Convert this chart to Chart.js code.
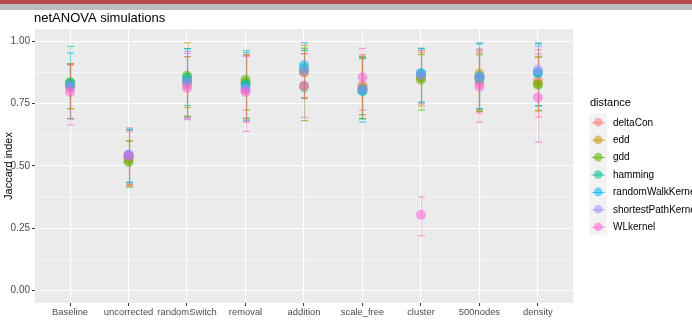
<!DOCTYPE html>
<html>
<head>
<meta charset="utf-8">
<script src="https://cdn.jsdelivr.net/npm/chart.js@4/dist/chart.umd.min.js"></script>
<style>
html,body{margin:0;padding:0;background:#fff;}
canvas{display:block;}
</style>
</head>
<body>
<canvas id="c" width="692" height="320"></canvas>
<script>
const categories = ['Baseline','uncorrected','randomSwitch','removal','addition','scale_free','cluster','500nodes','density'];
const distances = ['deltaCon','edd','gdd','hamming','randomWalkKernel','shortestPathKernel','WLkernel'];
const yTickLabels = [0, 0.25, 0.5, 0.75, 1];

const deltaConMean = [0.815,0.534,0.826,0.806,0.877,0.823,0.862,0.833,0.843];
const deltaConLo   = [0.690,0.424,0.695,0.676,0.775,0.724,0.749,0.712,0.696];
const deltaConHi   = [0.910,0.639,0.939,0.947,0.951,0.947,0.963,0.967,0.967];

const eddMean = [0.825,0.525,0.840,0.835,0.877,0.815,0.855,0.870,0.830];
const eddLo   = [0.730,0.420,0.734,0.690,0.770,0.706,0.740,0.720,0.720];
const eddHi   = [0.910,0.600,0.994,0.947,0.984,0.940,0.955,0.960,0.940];

const gddMean = [0.835,0.516,0.862,0.846,0.820,0.810,0.846,0.853,0.826];
const gddLo   = [0.730,0.415,0.700,0.724,0.682,0.690,0.724,0.719,0.724];
const gddHi   = [0.910,0.601,0.939,0.947,0.973,0.931,0.947,0.947,0.936];

const hammingMean = [0.835,0.540,0.855,0.830,0.890,0.800,0.870,0.850,0.875];
const hammingLo   = [0.690,0.434,0.742,0.692,0.775,0.690,0.757,0.730,0.742];
const hammingHi   = [0.980,0.647,0.971,0.963,0.963,0.935,0.972,0.994,0.994];

const randomWalkKernelMean = [0.823,0.545,0.842,0.822,0.904,0.803,0.873,0.860,0.873];
const randomWalkKernelLo   = [0.690,0.434,0.698,0.684,0.800,0.676,0.757,0.730,0.742];
const randomWalkKernelHi   = [0.953,0.647,0.971,0.955,0.994,0.935,0.972,0.990,0.990];

const shortestPathKernelMean = [0.820,0.545,0.835,0.810,0.880,0.810,0.865,0.855,0.886];
const shortestPathKernelLo   = [0.690,0.430,0.690,0.680,0.770,0.690,0.750,0.725,0.740];
const shortestPathKernelHi   = [0.910,0.645,0.960,0.945,0.970,0.940,0.965,0.970,0.980];

const WLkernelMean = [0.797,0.540,0.813,0.797,0.822,0.856,0.304,0.819,0.775];
const WLkernelLo   = [0.664,0.424,0.686,0.639,0.695,0.706,0.220,0.676,0.596];
const WLkernelHi   = [0.905,0.653,0.952,0.939,0.951,0.972,0.375,0.953,0.950];

const means = [deltaConMean, eddMean, gddMean, hammingMean, randomWalkKernelMean, shortestPathKernelMean, WLkernelMean];
const lows  = [deltaConLo, eddLo, gddLo, hammingLo, randomWalkKernelLo, shortestPathKernelLo, WLkernelLo];
const highs = [deltaConHi, eddHi, gddHi, hammingHi, randomWalkKernelHi, shortestPathKernelHi, WLkernelHi];

const colours = ['248,118,109','196,154,0','83,180,0','0,192,148','0,182,235','165,138,255','251,97,215'];
const FONT = "'Liberation Sans', Arial, sans-serif";

const datasets = distances.map((d, i) => ({
  label: d,
  data: means[i].map((v, j) => ({x: j, y: v})),
  backgroundColor: 'rgba(' + colours[i] + ',0.55)',
  borderWidth: 0,
  pointRadius: 5,
  pointHoverRadius: 5,
  order: distances.length - 1 - i
}));

const decor = {
  id: 'decor',
  beforeDraw(chart) {
    const ctx = chart.ctx, a = chart.chartArea;
    ctx.save();
    ctx.fillStyle = '#ffffff';
    ctx.fillRect(0, 0, chart.width, chart.height);
    ctx.fillStyle = '#B5474A';
    ctx.fillRect(0, 0, chart.width, 4);
    ctx.fillStyle = '#BDBDBD';
    ctx.fillRect(0, 4, chart.width, 6);
    ctx.fillStyle = '#EBEBEB';
    ctx.fillRect(a.left, a.top, a.right - a.left, a.bottom - a.top);
    ctx.restore();
  },
  beforeDatasetsDraw(chart) {
    const ctx = chart.ctx, xs = chart.scales.x, ys = chart.scales.y;
    ctx.save();
    ctx.lineWidth = 1.2;
    for (let i = distances.length - 1; i >= 0; i--) {
      ctx.strokeStyle = 'rgba(' + colours[i] + ',' + (i === 0 ? 0.6 : 0.3) + ')';
      for (let j = 0; j < categories.length; j++) {
        const x = Math.round(xs.getPixelForValue(j)) + 0.5;
        const y1 = ys.getPixelForValue(lows[i][j]);
        const y2 = ys.getPixelForValue(highs[i][j]);
        ctx.beginPath();
        ctx.moveTo(x, y1); ctx.lineTo(x, y2);
        ctx.stroke();
        ctx.strokeStyle = 'rgba(' + colours[i] + ',0.6)';
        ctx.beginPath();
        ctx.moveTo(x - 3.5, y1); ctx.lineTo(x + 3.5, y1);
        ctx.moveTo(x - 3.5, y2); ctx.lineTo(x + 3.5, y2);
        ctx.stroke();
        ctx.strokeStyle = 'rgba(' + colours[i] + ',' + (i === 0 ? 0.6 : 0.3) + ')';
      }
    }
    ctx.restore();
  },
  afterDraw(chart) {
    const ctx = chart.ctx, a = chart.chartArea;
    ctx.save();
    ctx.fillStyle = '#000';
    ctx.font = '13px ' + FONT;
    ctx.textBaseline = 'alphabetic';
    ctx.textAlign = 'left';
    ctx.fillText('netANOVA simulations', 34, 22);
    ctx.save();
    ctx.translate(9, (a.top + a.bottom) / 2);
    ctx.rotate(-Math.PI / 2);
    ctx.textAlign = 'center';
    ctx.textBaseline = 'middle';
    ctx.font = '11px ' + FONT;
    ctx.fillText('Jaccard index', 0, 0);
    ctx.restore();
    ctx.font = '11px ' + FONT;
    ctx.textBaseline = 'middle';
    ctx.fillText('distance', 590, 103);
    ctx.font = '10px ' + FONT;
    for (let i = 0; i < distances.length; i++) {
      const cy = 122.3 + i * 17.4;
      ctx.fillStyle = '#F2F2F2';
      ctx.fillRect(589.5, cy - 8.7, 17.4, 17.4);
      ctx.strokeStyle = 'rgba(' + colours[i] + ',0.7)';
      ctx.lineWidth = 1;
      ctx.beginPath();
      ctx.moveTo(591.5, cy + 0.5); ctx.lineTo(605, cy + 0.5);
      ctx.stroke();
      ctx.fillStyle = 'rgba(' + colours[i] + ',0.55)';
      ctx.beginPath();
      ctx.arc(598.2, cy, 4.3, 0, Math.PI * 2);
      ctx.fill();
      ctx.fillStyle = '#000';
      ctx.fillText(distances[i], 613, cy + 0.5);
    }
    ctx.restore();
  }
};

new Chart(document.getElementById('c'), {
  type: 'scatter',
  data: { datasets },
  plugins: [decor],
  options: {
    responsive: false,
    animation: false,
    devicePixelRatio: 1,
    layout: { padding: { left: 0, top: 29, right: 119, bottom: 0 } },
    plugins: { legend: { display: false }, tooltip: { enabled: false }, title: { display: false } },
    scales: {
      x: {
        type: 'linear',
        min: -0.6, max: 8.6,
        afterBuildTicks(s) { s.ticks = categories.map((c, j) => ({ value: j })); },
        afterFit(s) { s.height = 17; },
        border: { display: false },
        grid: { color: '#ffffff', lineWidth: 1.1, tickColor: '#333333', tickLength: 3, tickWidth: 1 },
        ticks: {
          autoSkip: false, maxRotation: 0, minRotation: 0, padding: 1,
          color: '#4D4D4D', font: { family: FONT, size: 9.4 },
          callback: (v) => categories[v]
        }
      },
      y: {
        type: 'linear',
        min: -0.05, max: 1.05,
        afterBuildTicks(s) {
          const t = [];
          for (let k = 0; k <= 8; k++) t.push({ value: k * 0.125 });
          s.ticks = t;
        },
        afterFit(s) { s.width = 35; },
        border: { display: false },
        grid: {
          color: '#ffffff',
          lineWidth: (c) => (c.tick && yTickLabels.includes(c.tick.value)) ? 1.1 : 0.55,
          tickColor: (c) => (c.tick && yTickLabels.includes(c.tick.value)) ? '#333333' : 'rgba(0,0,0,0)',
          tickLength: 3, tickWidth: 1
        },
        ticks: {
          autoSkip: false, padding: 2,
          color: '#4D4D4D', font: { family: FONT, size: 10 },
          callback: (v) => yTickLabels.includes(v) ? v.toFixed(2) : ''
        }
      }
    }
  }
});
</script>
</body>
</html>
